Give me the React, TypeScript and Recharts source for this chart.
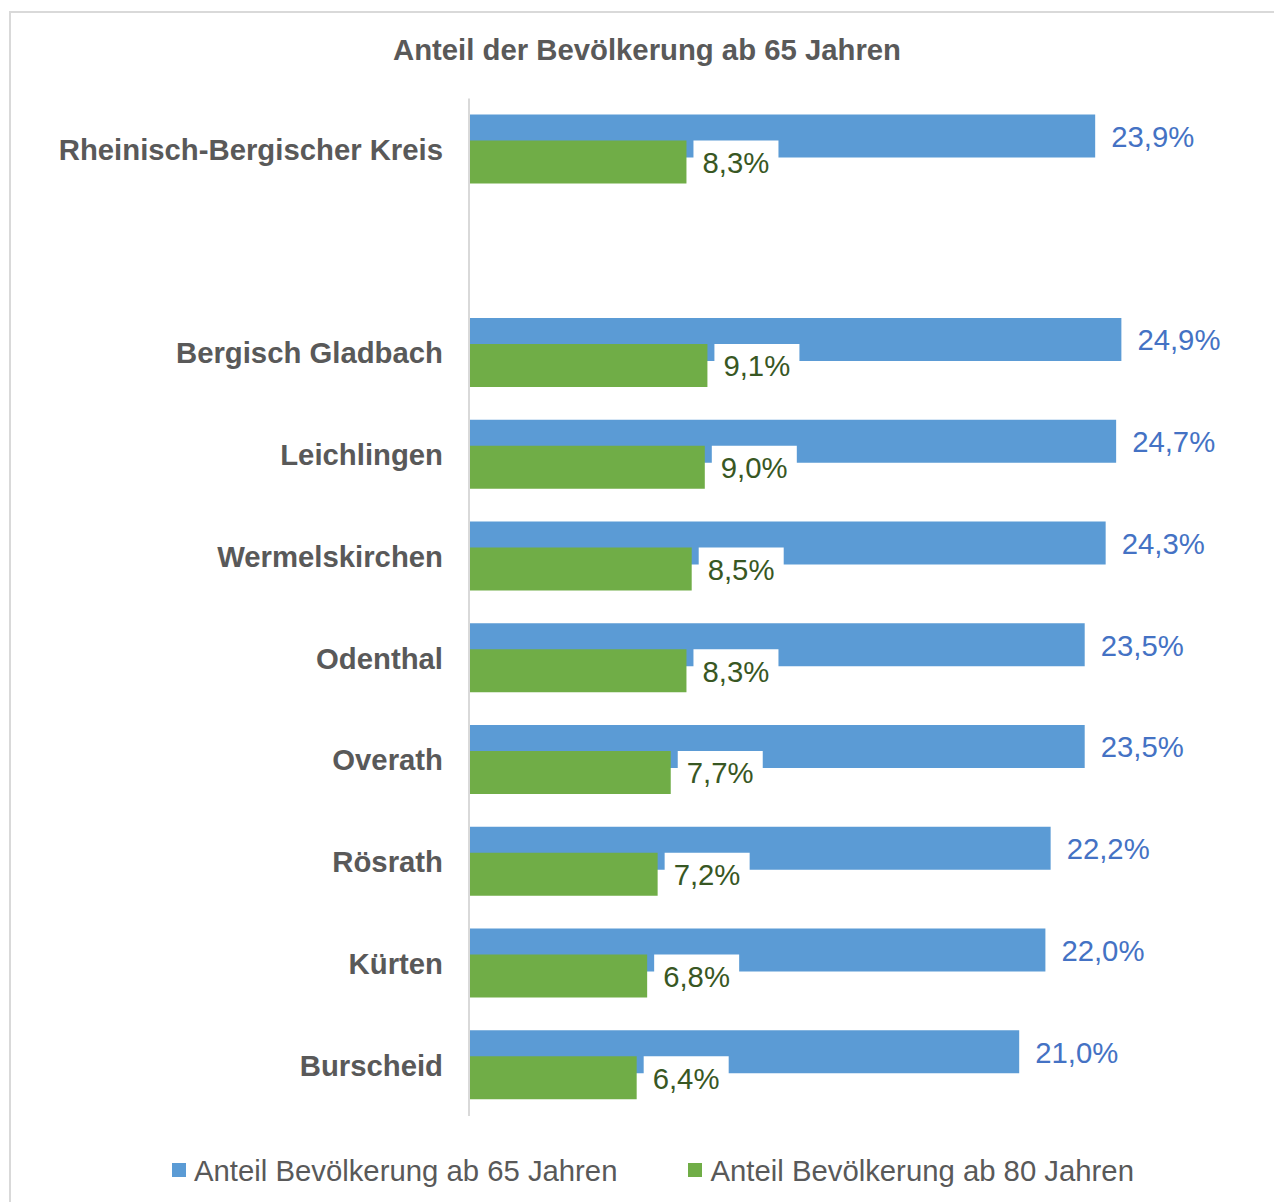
import React from "react";
import { BarChart, Bar, XAxis, YAxis, Legend, LabelList } from "recharts";

const regions = [
  "Rheinisch-Bergischer Kreis",
  "",
  "Bergisch Gladbach",
  "Leichlingen",
  "Wermelskirchen",
  "Odenthal",
  "Overath",
  "Rösrath",
  "Kürten",
  "Burscheid",
];
const ab65 = [23.9, null, 24.9, 24.7, 24.3, 23.5, 23.5, 22.2, 22.0, 21.0];
const ab80 = [8.3, null, 9.1, 9.0, 8.5, 8.3, 7.7, 7.2, 6.8, 6.4];

const data = regions.map((name, i) => ({ name, ab65: ab65[i], ab80: ab80[i] }));

const FONT = '"Liberation Sans", Arial, sans-serif';
const FS = 29.3;
const GREY = "#595959";
const BLUE = "#5B9BD5";
const GREEN = "#70AD47";

const fmt = (v: number) => v.toFixed(1).replace(".", ",") + "%";

function getBox(props: any) {
  const vb = props.viewBox || {};
  return {
    x: props.x ?? vb.x,
    y: props.y ?? vb.y,
    width: props.width ?? vb.width,
    height: props.height ?? vb.height,
  };
}

const BlueLabel = (props: any) => {
  if (props.value == null) return null;
  const { x, y, width, height } = getBox(props);
  return (
    <text x={x + width + 16} y={y + height / 2} dy="0.37em" fill="#4472C4" fontSize={FS} fontFamily={FONT}>
      {fmt(Number(props.value))}
    </text>
  );
};

const GreenLabel = (props: any) => {
  if (props.value == null) return null;
  const { x, y, width, height } = getBox(props);
  const end = x + width;
  return (
    <g>
      <rect x={end + 7} y={y} width={85} height={height} fill="#ffffff" />
      <text x={end + 16} y={y + height / 2} dy="0.37em" fill="#385723" fontSize={FS} fontFamily={FONT}>
        {fmt(Number(props.value))}
      </text>
    </g>
  );
};

const LegendContent = (props: any) => {
  const items = props.payload || [];
  return (
    <div style={{ display: "flex", alignItems: "center", height: 40, paddingLeft: 172, fontFamily: FONT }}>
      {items.map((it: any, i: number) => (
        <div key={i} style={{ display: "flex", alignItems: "center", marginRight: 71 }}>
          <span style={{ width: 14, height: 14, background: it.color, marginRight: 8 }} />
          <span style={{ fontSize: FS, lineHeight: "29px", color: GREY, whiteSpace: "nowrap" }}>{it.value}</span>
        </div>
      ))}
    </div>
  );
};

export default function App() {
  return (
    <div style={{ position: "absolute", left: 0, top: 0, width: 1274, height: 1202, overflow: "hidden", background: "#fff" }}>
      <div
        style={{
          position: "absolute",
          left: 9,
          top: 11,
          width: 1300,
          height: 1300,
          borderTop: "2px solid #d9d9d9",
          borderLeft: "2px solid #d9d9d9",
        }}
      />
      <div
        style={{
          position: "absolute",
          left: 647,
          top: 35,
          transform: "translateX(-50%)",
          whiteSpace: "nowrap",
          fontFamily: FONT,
          fontWeight: "bold",
          fontSize: FS,
          lineHeight: "29px",
          color: GREY,
        }}
      >
        Anteil der Bevölkerung ab 65 Jahren
      </div>
      <BarChart
        width={1274}
        height={1202}
        data={data}
        layout="vertical"
        barSize={43}
        barGap={-17}
        margin={{ top: 98.5, right: 19, bottom: 46, left: 0 }}
        style={{ position: "absolute", left: 0, top: 0 }}
      >
        <XAxis type="number" domain={[0, 30]} hide />
        <YAxis
          type="category"
          dataKey="name"
          width={469}
          tickLine={false}
          tickSize={0}
          tickMargin={26}
          axisLine={{ stroke: "#d9d9d9", strokeWidth: 2 }}
          tick={{ fill: GREY, fontSize: FS, fontWeight: "bold", fontFamily: FONT }}
          interval={0}
        />
        <Legend
          verticalAlign="bottom"
          content={LegendContent}
          wrapperStyle={{ left: 0, top: 1150, width: 1274 }}
        />
        <Bar dataKey="ab65" name="Anteil Bevölkerung ab 65 Jahren" fill={BLUE} isAnimationActive={false}>
          <LabelList dataKey="ab65" content={BlueLabel} />
        </Bar>
        <Bar dataKey="ab80" name="Anteil Bevölkerung ab 80 Jahren" fill={GREEN} isAnimationActive={false}>
          <LabelList dataKey="ab80" content={GreenLabel} />
        </Bar>
      </BarChart>
    </div>
  );
}
